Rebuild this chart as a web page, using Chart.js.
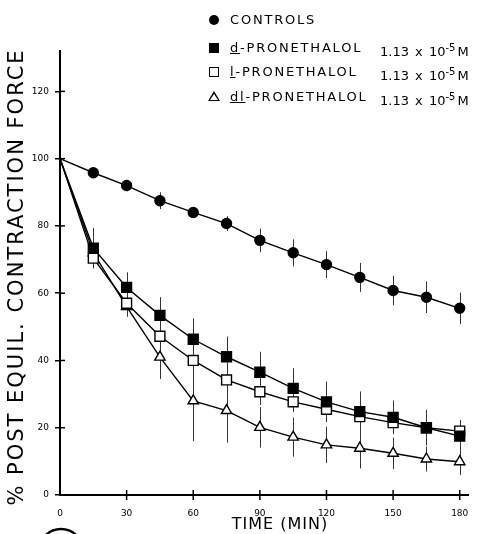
<!DOCTYPE html>
<html>
<head>
<meta charset="utf-8">
<script src="https://cdn.jsdelivr.net/npm/chart.js@4.4.0/dist/chart.umd.min.js"></script>
<style>
  body { margin: 0; background: #fff; }
  #wrap { position: relative; width: 477px; height: 534px; }
  .leg { position: absolute; font-family: "DejaVu Sans", sans-serif; font-size: 13px; color: #000; white-space: nowrap; line-height: 14px; }
  .name { letter-spacing: 1.8px; }
  .conc { word-spacing: 2px; }
  .mk { position: absolute; box-sizing: border-box; }
  .dot { width: 10px; height: 10px; border-radius: 50%; background: #000; }
  .sq { width: 10px; height: 10px; background: #000; }
  .osq { width: 10px; height: 10px; border: 1.5px solid #000; background: #fff; }
  .tri { width: 0; height: 0; border-left: 6px solid transparent; border-right: 6px solid transparent; border-bottom: 10px solid #000; }
  .tri::after { content: ""; position: absolute; left: -4px; top: 2.6px; border-left: 4px solid transparent; border-right: 4px solid transparent; border-bottom: 6.4px solid #fff; }
  sup { font-size: 10px; vertical-align: 5px; margin-right: 2px; }
</style>
</head>
<body>
<div id="wrap">
  <canvas id="chart" width="477" height="534"></canvas>

  <div class="mk dot" style="left:209px; top:15px;"></div>
  <div class="leg name" style="left:230px; top:13px;">CONTROLS</div>

  <div class="mk sq" style="left:209px; top:43px;"></div>
  <div class="leg name" style="left:230px; top:41px;"><u>d</u>-PRONETHALOL</div>
  <div class="leg conc" style="left:380px; top:41px;">1.13 x 10<sup>-5</sup>M</div>

  <div class="mk osq" style="left:209px; top:67px;"></div>
  <div class="leg name" style="left:230px; top:65px;"><u>l</u>-PRONETHALOL</div>
  <div class="leg conc" style="left:380px; top:65px;">1.13 x 10<sup>-5</sup>M</div>

  <div class="mk tri" style="left:208px; top:91px;"></div>
  <div class="leg name" style="left:230px; top:90px;"><u>dl</u>-PRONETHALOL</div>
  <div class="leg conc" style="left:380px; top:90px;">1.13 x 10<sup>-5</sup>M</div>
</div>

<script>
// time points (min)
const times = [0, 15, 30, 45, 60, 75, 90, 105, 120, 135, 150, 165, 180];

// % post equilibrium contraction force
const controls = [100, 95.8, 92, 87.5, 84, 80.7, 75.7, 72, 68.5, 64.7, 60.8, 58.8, 55.5];
const dPron = [100, 73.4, 61.7, 53.4, 46.3, 41.1, 36.5, 31.7, 27.7, 24.8, 23.1, 20, 17.5];
const lPron = [100, 70.4, 57, 47.2, 40, 34.2, 30.7, 27.7, 25.5, 23.3, 21.5, 20, 19];
const dlPron = [100, 72, 56, 41, 28, 25.1, 20.1, 17.2, 14.9, 13.9, 12.4, 10.7, 9.9];

// half length of the vertical error bars
const controlsErr = [0, 1.5, 1.7, 2.5, 0, 2.2, 3.5, 4, 4, 4.3, 4.4, 4.7, 4.7];
const dPronErr = [0, 6, 4.5, 5.4, 6.2, 6, 6.1, 6, 6, 6, 5, 5.3, 4.8];
const lPronErr = [0, 3, 3, 3, 3, 3, 4, 3, 2.5, 3, 3, 3, 3];
const dlPronErr = [0, 3, 3, 6.5, 12, 9.5, 6, 5.8, 5.4, 6, 4.7, 3.7, 4];

const xTicks = [0, 30, 60, 90, 120, 150, 180];
const yTicks = [0, 20, 40, 60, 80, 100, 120];

function pts(ys) {
  return times.map((t, i) => ({ x: t, y: ys[i] }));
}
// no marker at the common starting point
const radii = (r) => times.map((t, i) => (i === 0 ? 0 : r));

const extras = {
  id: "extras",
  beforeDatasetsDraw(chart) {
    const { ctx, scales } = chart;
    const x = scales.x, y = scales.y;
    const sets = [
      [controls, controlsErr],
      [dPron, dPronErr],
      [lPron, lPronErr],
      [dlPron, dlPronErr],
    ];
    ctx.save();
    ctx.strokeStyle = "#333";
    ctx.lineWidth = 1;
    sets.forEach(([vals, errs]) => {
      times.forEach((t, i) => {
        if (!errs[i]) return;
        const px = Math.round(x.getPixelForValue(t)) + 0.5;
        ctx.beginPath();
        ctx.moveTo(px, y.getPixelForValue(vals[i] + errs[i]));
        ctx.lineTo(px, y.getPixelForValue(vals[i] - errs[i]));
        ctx.stroke();
      });
    });
    ctx.restore();
  },
  afterDraw(chart) {
    const { ctx, scales, chartArea } = chart;
    const x = scales.x, y = scales.y;
    ctx.save();
    ctx.strokeStyle = "#000";
    ctx.lineWidth = 1.5;
    // tick marks crossing the axes
    xTicks.forEach((v) => {
      if (v === 0) return;
      const px = x.getPixelForValue(v);
      ctx.beginPath();
      ctx.moveTo(px, chartArea.bottom + 5);
      ctx.lineTo(px, chartArea.bottom - 5);
      ctx.stroke();
    });
    yTicks.forEach((v) => {
      if (v === 0) return;
      const py = y.getPixelForValue(v);
      ctx.beginPath();
      ctx.moveTo(chartArea.left, py);
      ctx.lineTo(chartArea.left + 5, py);
      ctx.stroke();
    });

    ctx.fillStyle = "#000";
    ctx.textAlign = "center";
    ctx.textBaseline = "middle";
    // y title
    ctx.save();
    ctx.translate(17.5, 277);
    ctx.rotate(-Math.PI / 2);
    ctx.font = '21px "DejaVu Sans"';
    ctx.letterSpacing = "2px";
    ctx.fillText("% POST EQUIL. CONTRACTION FORCE", 0, 0);
    ctx.restore();
    // x title
    ctx.font = '16px "DejaVu Sans"';
    ctx.letterSpacing = "1px";
    ctx.fillText("TIME (MIN)", 280, 525);

    // circled figure mark cut off at the bottom
    ctx.lineWidth = 2.5;
    ctx.beginPath();
    ctx.arc(61, 551, 22, Math.PI, 2 * Math.PI);
    ctx.stroke();
    ctx.restore();
  },
};

const common = {
  borderColor: "#000",
  borderWidth: 1.4,
  pointBorderColor: "#000",
  pointBorderWidth: 1.4,
  tension: 0,
};

new Chart(document.getElementById("chart"), {
  type: "line",
  data: {
    datasets: [
      { ...common, label: "CONTROLS", data: pts(controls), pointStyle: "circle", pointRadius: radii(5), pointBackgroundColor: "#000" },
      { ...common, label: "d-PRONETHALOL", data: pts(dPron), pointStyle: "rect", pointRadius: radii(7), pointBackgroundColor: "#000" },
      { ...common, label: "l-PRONETHALOL", data: pts(lPron), pointStyle: "rect", pointRadius: radii(7), pointBackgroundColor: "#fff" },
      { ...common, label: "dl-PRONETHALOL", data: pts(dlPron), pointStyle: "triangle", pointRadius: radii(6), pointBackgroundColor: "#fff" },
    ],
  },
  options: {
    responsive: false,
    animation: false,
    clip: false,
    layout: { padding: { top: 51, right: 0, left: 0, bottom: 0 } },
    plugins: {
      legend: { display: false },
      tooltip: { enabled: false },
    },
    scales: {
      x: {
        type: "linear",
        min: 0,
        max: 184,
        afterFit: (s) => { s.height = 39; },
        afterBuildTicks: (s) => { s.ticks = xTicks.map((v) => ({ value: v })); },
        ticks: { color: "#000", font: { family: "DejaVu Sans", size: 9 }, padding: 0, maxRotation: 0 },
        grid: { drawOnChartArea: false, tickLength: 13, tickColor: "rgba(0,0,0,0)" },
        border: { color: "#000", width: 2 },
      },
      y: {
        min: 0,
        max: 132,
        afterFit: (s) => { s.width = 60; },
        afterBuildTicks: (s) => { s.ticks = yTicks.map((v) => ({ value: v })); },
        ticks: { color: "#000", font: { family: "DejaVu Sans", size: 9 }, padding: 6 },
        grid: { drawOnChartArea: false, tickLength: 5, color: "#000", lineWidth: 1.5 },
        border: { color: "#000", width: 2 },
      },
    },
  },
  plugins: [extras],
});
</script>
</body>
</html>
